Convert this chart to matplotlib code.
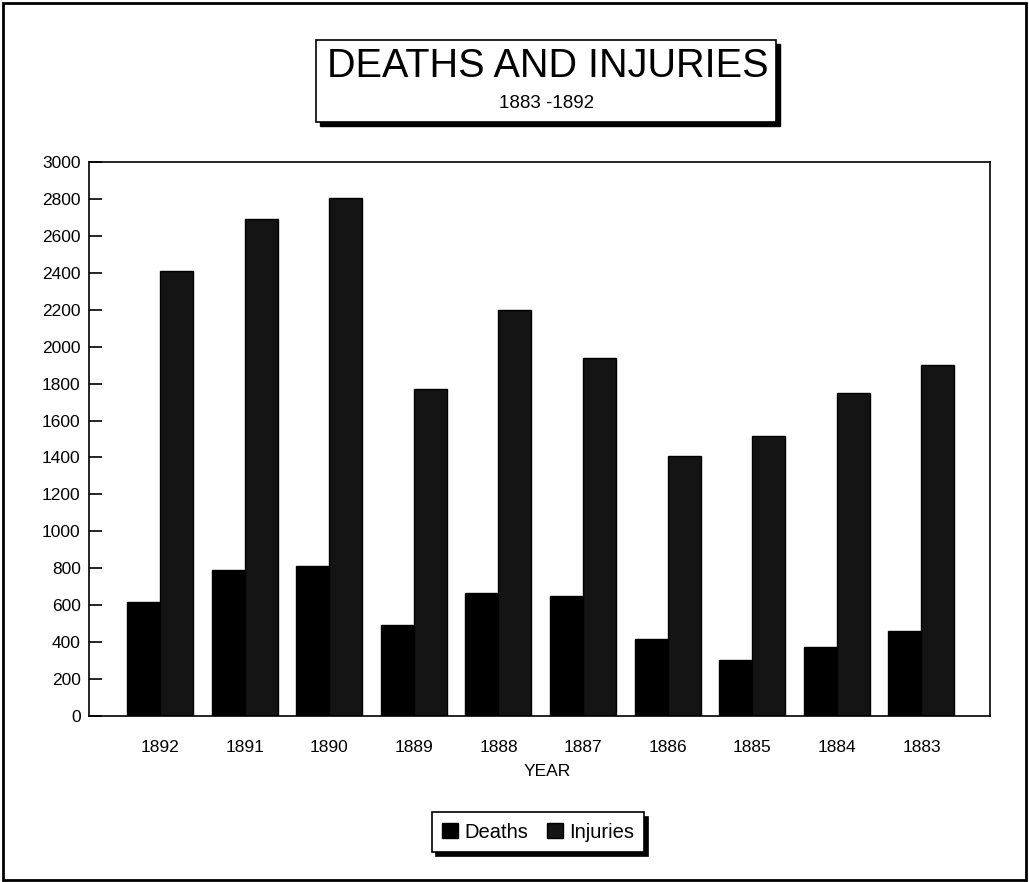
import numpy as np
import matplotlib.pyplot as plt
from matplotlib.patches import Rectangle

# data
years = ['1892', '1891', '1890', '1889', '1888', '1887', '1886', '1885', '1884', '1883']
deaths = [620, 790, 810, 495, 665, 650, 415, 305, 375, 460]
injuries = [2410, 2690, 2805, 1770, 2200, 1940, 1410, 1515, 1750, 1900]

plt.rcParams['font.family'] = ['Liberation Sans', 'DejaVu Sans']

W, H = 1029, 882
fig = plt.figure(figsize=(W / 100, H / 100), dpi=100)

def px(x0, y0, x1, y1):
    """pixel box (top-left origin) -> figure fraction rect"""
    return [x0 / W, 1 - y1 / H, (x1 - x0) / W, (y1 - y0) / H]

# outer frame
fig.patches.append(Rectangle((3 / W, 1 - 880 / H), 1023 / W, 877 / H,
                             transform=fig.transFigure, fill=False,
                             edgecolor='black', linewidth=2))

# title box with drop shadow
tb = px(316, 40, 776, 122)
fig.patches.append(Rectangle((tb[0] + 4 / W, tb[1] - 4 / H), tb[2], tb[3],
                             transform=fig.transFigure, facecolor='black',
                             edgecolor='black'))
fig.patches.append(Rectangle((tb[0], tb[1]), tb[2], tb[3],
                             transform=fig.transFigure, facecolor='white',
                             edgecolor='black', linewidth=1.2))
fig.text(548 / W, 1 - 66 / H, 'DEATHS AND INJURIES', ha='center', va='center',
         fontsize=28.5)
fig.text(547 / W, 1 - 104 / H, '1883 -1892', ha='center', va='center',
         fontsize=13.5)

ax = fig.add_axes(px(89, 162, 990, 716))
x = np.arange(len(years))
w = 0.39
ax.bar(x - w / 2, deaths, w, color='#000000', edgecolor='black',
       linewidth=1, label='Deaths')
ax.bar(x + w / 2, injuries, w, color='#141414', edgecolor='black',
       linewidth=1, label='Injuries')

ax.set_ylim(0, 3000)
ax.set_yticks(range(0, 3001, 200))
ax.set_xlim(-0.84, 9.81)
ax.set_xticks(x)
ax.set_xticklabels(years)
ax.tick_params(axis='x', length=0, pad=17, labelsize=12.5)
ax.tick_params(axis='y', direction='in', length=9, width=1.2, labelsize=12.5, pad=6)
for s in ax.spines.values():
    s.set_linewidth(1.2)
ax.set_xlabel('YEAR', fontsize=12.5, labelpad=6)
ax.xaxis.set_label_coords(0.509, -0.087)

leg = fig.legend(loc='center', bbox_to_anchor=(538 / W, 1 - 832 / H),
                 ncol=2, fontsize=14.5, frameon=True, fancybox=False,
                 edgecolor='black', handlelength=0.8, handleheight=0.8,
                 handletextpad=0.3, columnspacing=0.9, borderpad=0.5,
                 shadow={'color': 'black', 'alpha': 1, 'ox': 3, 'oy': -3})
leg.get_frame().set_linewidth(1.2)

fig.savefig('out.png', dpi=100)
